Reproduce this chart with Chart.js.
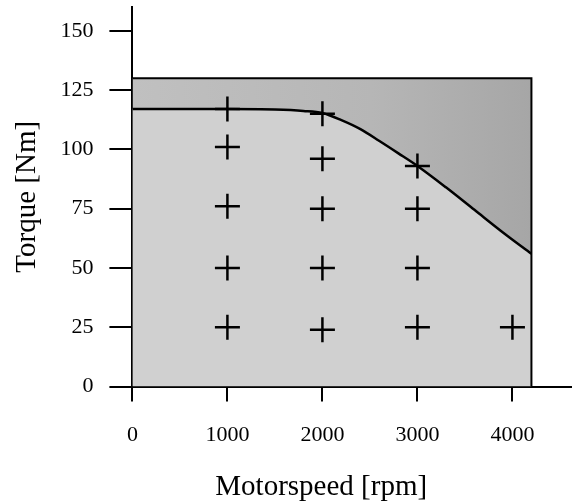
<!DOCTYPE html>
<html>
<head>
<meta charset="utf-8">
<script src="https://cdn.jsdelivr.net/npm/chart.js@4/dist/chart.umd.min.js"></script>
<style>
  html, body { margin: 0; padding: 0; background: #fff; }
  #wrap { width: 572px; height: 503px; position: relative; }
</style>
</head>
<body>
<div id="wrap"><canvas id="torqueChart"></canvas></div>
<script>
// operating range box (motorspeed rpm, torque Nm)
var boxSpeed = [0, 4200, 4200];
var boxTorque = [130, 130, 0];

// full-load torque curve
var curveSpeed = [0, 1000, 1500, 1800, 2000, 2200, 2400, 2600, 2800, 3000, 3300, 3600, 3900, 4200];
var curveTorque = [117, 117, 116.8, 116.2, 115.3, 112.3, 108.5, 103.5, 98.3, 93, 84, 74.5, 65, 56];

// measured operating points (+)
var pointSpeed = [1000, 1000, 1000, 1000, 1000, 2000, 2000, 2000, 2000, 2000, 3000, 3000, 3000, 3000, 4000];
var pointTorque = [117, 101, 76, 50, 25, 115, 96, 75, 50, 24, 93, 75, 50, 25, 25];

// tick labels
var xTicks = [0, 1000, 2000, 3000, 4000];
var yTicks = [0, 25, 50, 75, 100, 125, 150];

var xTitle = 'Motorspeed [rpm]';
var yTitle = 'Torque [Nm]';

function xy(xs, ys) {
    return xs.map(function(v, i) { return {x: v, y: ys[i]}; });
}

var serif = "'Liberation Serif', 'Times New Roman', serif";
Chart.defaults.color = '#000';

// shaded area above the curve gets darker towards high speed
function bandFill(context) {
    var chart = context.chart;
    var area = chart.chartArea;
    if (!area) return '#b4b4b4';
    var g = chart.ctx.createLinearGradient(area.left, 0, chart.scales.x.getPixelForValue(4200), 0);
    g.addColorStop(0, '#c0c0c0');
    g.addColorStop(0.6, '#b6b6b6');
    g.addColorStop(1, '#a6a6a6');
    return g;
}

// x axis title sits a bit left of the plot centre in the original
var xTitlePlugin = {
    id: 'xTitleText',
    afterDraw: function(chart) {
        var ctx = chart.ctx;
        var area = chart.chartArea;
        ctx.save();
        ctx.fillStyle = '#000';
        ctx.font = '29px ' + serif;
        ctx.textAlign = 'center';
        ctx.textBaseline = 'alphabetic';
        ctx.fillText(xTitle, (area.left + area.right) / 2 - 31, chart.height - 8);
        ctx.restore();
    }
};

var chart_torque = new Chart(document.getElementById('torqueChart'), {
    type: 'line',
    data: {
        datasets: [
            {
                label: 'range fill',
                data: xy(boxSpeed, boxTorque),
                fill: 'origin',
                backgroundColor: bandFill,
                borderWidth: 0,
                pointRadius: 0,
                tension: 0,
                order: 4
            },
            {
                label: 'full load',
                data: xy(curveSpeed, curveTorque),
                fill: 'origin',
                backgroundColor: '#d0d0d0',
                borderColor: '#000',
                borderWidth: 2.5,
                pointRadius: 0,
                cubicInterpolationMode: 'monotone',
                order: 3
            },
            {
                label: 'range outline',
                data: xy(boxSpeed, boxTorque),
                fill: false,
                borderColor: '#000',
                borderWidth: 2,
                pointRadius: 0,
                tension: 0,
                order: 2
            },
            {
                label: 'points',
                data: xy(pointSpeed, pointTorque),
                showLine: false,
                pointStyle: 'cross',
                pointRadius: 12.5,
                pointBorderWidth: 2.5,
                pointBorderColor: '#000',
                pointBackgroundColor: '#000',
                order: 1
            }
        ]
    },
    options: {
        animation: false,
        responsive: true,
        maintainAspectRatio: false,
        layout: {
            autoPadding: false,
            padding: {top: 7, right: 0, bottom: 55, left: 0}
        },
        plugins: {
            legend: {display: false},
            title: {display: false},
            tooltip: {enabled: false}
        },
        scales: {
            x: {
                type: 'linear',
                min: 0,
                max: 4627,
                border: {display: true, color: '#000', width: 2},
                grid: {
                    drawOnChartArea: false,
                    drawTicks: true,
                    tickLength: 15,
                    color: '#000',
                    lineWidth: 2
                },
                ticks: {
                    maxRotation: 0,
                    padding: 20,
                    font: {family: serif, size: 22},
                    callback: function(value) { return String(value); }
                },
                afterBuildTicks: function(scale) {
                    scale.ticks = xTicks.map(function(v) { return {value: v}; });
                },
                afterFit: function(scale) {
                    scale.height = 61.4;
                    scale.paddingLeft = 0;
                    scale.paddingRight = 0;
                },
                title: {display: false}
            },
            y: {
                type: 'linear',
                min: 0,
                max: 160,
                border: {display: true, color: '#000', width: 2},
                grid: {
                    drawOnChartArea: false,
                    drawTicks: true,
                    tickLength: 23,
                    color: '#000',
                    lineWidth: 2
                },
                ticks: {
                    padding: 16,
                    font: {family: serif, size: 22},
                    callback: function(value) { return String(value); }
                },
                afterBuildTicks: function(scale) {
                    scale.ticks = yTicks.map(function(v) { return {value: v}; });
                },
                afterFit: function(scale) {
                    scale.width = 132.4;
                    scale.paddingTop = 0;
                    scale.paddingBottom = 0;
                },
                title: {
                    display: true,
                    text: yTitle,
                    padding: {top: 10, bottom: 16},
                    font: {family: serif, size: 29}
                }
            }
        }
    },
    plugins: [xTitlePlugin]
});
</script>
</body>
</html>
